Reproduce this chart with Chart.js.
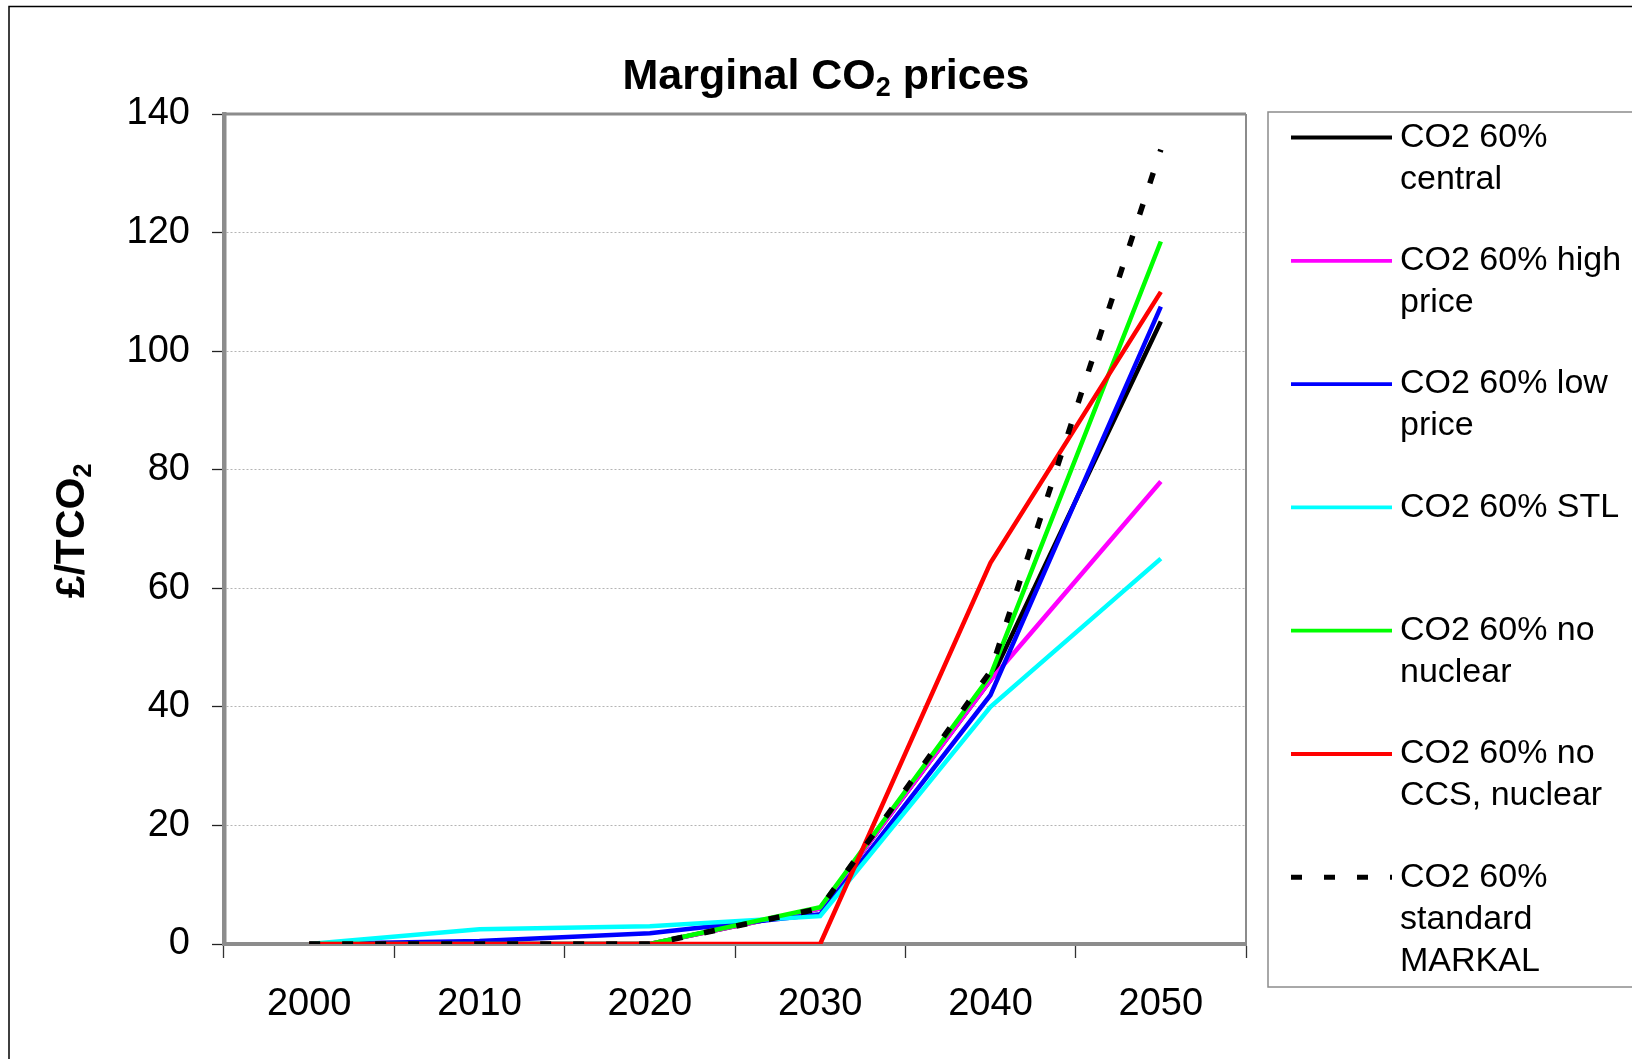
<!DOCTYPE html>
<html>
<head>
<meta charset="utf-8">
<title>Marginal CO2 prices</title>
<script src="https://cdn.jsdelivr.net/npm/chart.js@4.4.0/dist/chart.umd.min.js"></script>
<style>
    html, body { margin: 0; padding: 0; background: #ffffff; }
    #wrap { width: 1632px; height: 1059px; position: relative; overflow: hidden; }
</style>
</head>
<body>
<div id="wrap"><canvas id="co2Chart" width="1632" height="1059"></canvas></div>
<script>
// Years on the x axis and the y range in £/tCO2
const years = ['2000', '2010', '2020', '2030', '2040', '2050'];
const yMin = 0;
const yMax = 140;
const yStep = 20;

// Marginal CO2 price per scenario (£/tCO2)
const central      = [0, 0,   0,   6,   44.5, 105];
const highPrice    = [0, 0,   0,   6,   44.5, 78];
const lowPrice     = [0, 0.5, 1.8, 5,   42,   107.5];
const stl          = [0, 2.5, 3,   4.7, 40,   65];
const noNuclear    = [0, 0,   0,   6.2, 45.3, 118.5];
const noCcsNuclear = [0, 0,   0,   0,   64.3, 110];
const standard     = [0, 0,   0,   6,   46,   134];

const seriesNames = [
    'CO2 60% central',
    'CO2 60% high price',
    'CO2 60% low price',
    'CO2 60% STL',
    'CO2 60% no nuclear',
    'CO2 60% no CCS, nuclear',
    'CO2 60% standard MARKAL'
];

const FONT = '"Liberation Sans", Arial, sans-serif';

function makeSet(i, data, color, dash) {
    return {
        label: seriesNames[i],
        data: data,
        borderColor: color,
        backgroundColor: color,
        borderWidth: dash ? 5.5 : 4.5,
        borderDash: dash || [],
        borderCapStyle: 'butt',
        pointRadius: 0,
        pointHoverRadius: 0,
        tension: 0,
        fill: false,
        order: -i   // later series sit on top
    };
}

// title, axis title, frames and the wrapped legend
const decorations = {
    id: 'decorations',
    beforeDatasetsDraw(chart) {
        const { ctx, chartArea: a } = chart;
        ctx.save();
        ctx.strokeStyle = '#8c8c8c';
        ctx.lineWidth = 3;
        ctx.beginPath();
        ctx.moveTo(a.left, a.top);
        ctx.lineTo(a.right, a.top);
        ctx.stroke();
        ctx.lineWidth = 2;
        ctx.beginPath();
        ctx.moveTo(a.right, a.top);
        ctx.lineTo(a.right, a.bottom);
        ctx.stroke();
        ctx.restore();
    },
    afterDraw(chart) {
        const { ctx } = chart;
        ctx.save();

        // outer frame
        ctx.strokeStyle = '#000';
        ctx.lineWidth = 1.5;
        ctx.strokeRect(9, 6.5, 3000, 3000);

        // title with subscript
        drawSubText(ctx, ['Marginal CO', '2', ' prices'], 826, 89, 43, 'bold', 'center');

        // y axis title, rotated
        ctx.save();
        ctx.translate(84, 531);
        ctx.rotate(-Math.PI / 2);
        drawSubText(ctx, ['£/TCO', '2', ''], 0, 0, 41, 'bold', 'center');
        ctx.restore();

        // legend box
        ctx.strokeStyle = '#8c8c8c';
        ctx.lineWidth = 1.5;
        ctx.strokeRect(1268, 112, 500, 875);

        const sets = chart.data.datasets;
        ctx.font = '34px ' + FONT;
        ctx.fillStyle = '#000';
        ctx.textBaseline = 'middle';
        ctx.textAlign = 'left';
        sets.forEach((ds, i) => {
            const y = 137.5 + i * 123.3;
            ctx.save();
            ctx.strokeStyle = ds.borderColor;
            ctx.lineWidth = ds.borderDash.length ? 5 : 3.8;
            ctx.setLineDash(ds.borderDash || []);
            ctx.lineCap = 'butt';
            ctx.beginPath();
            ctx.moveTo(1291, y);
            ctx.lineTo(1392, y);
            ctx.stroke();
            ctx.restore();
            wrapText(ctx, ds.label, 232).forEach((line, k) => {
                ctx.fillText(line, 1400, y + k * 42);
            });
        });
        ctx.restore();
    }
};

function drawSubText(ctx, parts, x, baseline, size, weight, align) {
    const subSize = Math.round(size * 0.62);
    ctx.textBaseline = 'alphabetic';
    ctx.textAlign = 'left';
    ctx.fillStyle = '#000';
    ctx.font = weight + ' ' + size + 'px ' + FONT;
    const w0 = ctx.measureText(parts[0]).width;
    const w2 = ctx.measureText(parts[2]).width;
    ctx.font = weight + ' ' + subSize + 'px ' + FONT;
    const w1 = ctx.measureText(parts[1]).width;
    const total = w0 + w1 + w2;
    let sx = align === 'center' ? x - total / 2 : x;
    ctx.font = weight + ' ' + size + 'px ' + FONT;
    ctx.fillText(parts[0], sx, baseline);
    ctx.font = weight + ' ' + subSize + 'px ' + FONT;
    ctx.fillText(parts[1], sx + w0, baseline + size * 0.16);
    ctx.font = weight + ' ' + size + 'px ' + FONT;
    ctx.fillText(parts[2], sx + w0 + w1, baseline);
}

function wrapText(ctx, text, maxWidth) {
    const words = text.split(' ');
    const lines = [];
    let cur = '';
    words.forEach(w => {
        const test = cur ? cur + ' ' + w : w;
        if (cur && ctx.measureText(test).width > maxWidth) {
            lines.push(cur);
            cur = w;
        } else {
            cur = test;
        }
    });
    if (cur) lines.push(cur);
    return lines;
}

const ctx = document.getElementById('co2Chart').getContext('2d');
new Chart(ctx, {
    type: 'line',
    data: {
        labels: years,
        datasets: [
            makeSet(0, central, '#000000'),
            makeSet(1, highPrice, '#ff00ff'),
            makeSet(2, lowPrice, '#0000ff'),
            makeSet(3, stl, '#00ffff'),
            makeSet(4, noNuclear, '#00ff00'),
            makeSet(5, noCcsNuclear, '#ff0000'),
            makeSet(6, standard, '#000000', [11, 22])
        ]
    },
    options: {
        responsive: false,
        animation: false,
        events: [],
        layout: {
            padding: { left: 0, top: 114, right: 386, bottom: 0 }
        },
        plugins: {
            legend: { display: false },
            title: { display: false },
            tooltip: { enabled: false }
        },
        scales: {
            x: {
                offset: true,
                grid: {
                    offset: true,
                    drawOnChartArea: false,
                    drawTicks: true,
                    tickLength: 14,
                    tickColor: '#333',
                    tickWidth: 1.3
                },
                border: { color: '#8c8c8c', width: 4 },
                ticks: {
                    font: { family: FONT, size: 38 },
                    color: '#000',
                    padding: 24,
                    maxRotation: 0,
                    autoSkip: false
                },
                afterFit: function(scale) {
                    scale.height = 115;
                }
            },
            y: {
                min: yMin,
                max: yMax,
                grid: {
                    color: function(context) {
                        const v = context.tick ? context.tick.value : null;
                        return (v === yMin || v === yMax) ? 'rgba(0,0,0,0)' : '#b4b4b4';
                    },
                    lineWidth: 1,
                    drawTicks: true,
                    tickLength: 12,
                    tickColor: '#222',
                    tickWidth: 1.3
                },
                border: { color: '#8c8c8c', width: 4.5, dash: [2, 2] },
                ticks: {
                    stepSize: yStep,
                    font: { family: FONT, size: 38 },
                    color: '#000',
                    padding: 22
                },
                afterFit: function(scale) {
                    scale.width = 224;
                }
            }
        }
    },
    plugins: [decorations]
});
</script>
</body>
</html>
